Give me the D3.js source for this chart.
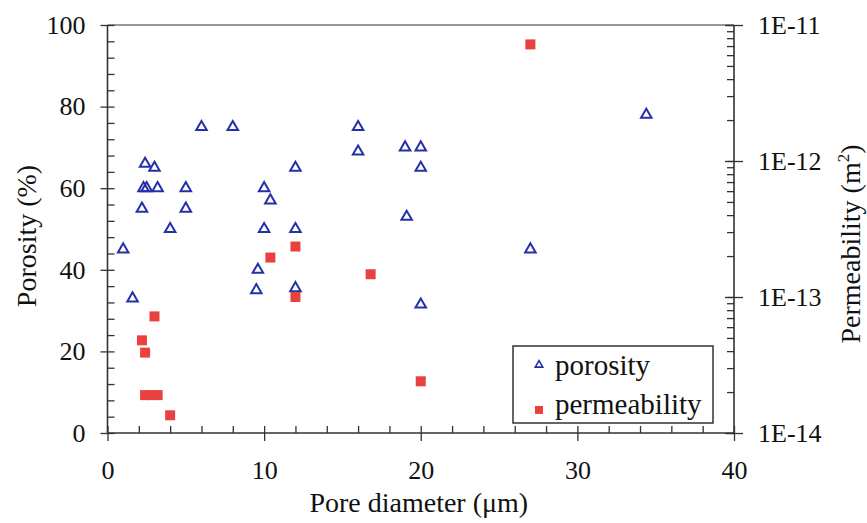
<!DOCTYPE html>
<html>
<head>
<meta charset="utf-8">
<script src="https://cdn.jsdelivr.net/npm/d3@7"></script>
<style>
  body { margin: 0; background: #fff; }
</style>
</head>
<body>
<svg id="drawing_region"></svg>
<script>
// pore diameter (um) vs porosity (%)
const porosityX = [1.0, 1.6, 2.4, 3.0, 2.3, 2.5, 3.2, 2.2, 4.0, 5.0, 5.0, 6.0, 8.0,
  10.0, 10.4, 10.0, 9.6, 9.5, 12.0, 12.0, 12.0, 16.0, 16.0, 19.0, 20.0, 20.0, 19.1, 20.0, 27.0, 34.4];
const porosityY = [45, 33, 66, 65, 60, 60, 60, 55, 50, 60, 55, 75, 75,
  60, 57, 50, 40, 35, 65, 50, 35.5, 75, 69, 70, 70, 65, 53, 31.5, 45, 78];

// pore diameter (um) vs permeability (m^2)
const permX = [3.0, 2.2, 2.4, 2.4, 2.8, 3.2, 4.0, 10.4, 12.0, 12.0, 16.8, 20.0, 27.0];
const permY = [7.2e-14, 4.8e-14, 3.9e-14, 1.9e-14, 1.9e-14, 1.9e-14, 1.35e-14,
  1.95e-13, 2.35e-13, 1.0e-13, 1.47e-13, 2.4e-14, 7.2e-12];

const xTicks = [0, 10, 20, 30, 40];
const yTicks = [0, 20, 40, 60, 80, 100];
const kTicks = [1e-14, 1e-13, 1e-12, 1e-11];
const kLabels = ["1E-14", "1E-13", "1E-12", "1E-11"];

const W = 867, H = 523;
const pLeft = 107.5, pRight = 734, pTop = 25, pBottom = 433;
const serif = '"Liberation Serif", "DejaVu Serif", serif';

const svg = d3.select('#drawing_region')
    .attr('width', W)
    .attr('height', H)
    .attr('font-family', serif);

const x = d3.scaleLinear().domain([0, 40]).range([pLeft, pRight]);
const y = d3.scaleLinear().domain([0, 100]).range([pBottom, pTop]);
const yk = d3.scaleLog().domain([1e-14, 1e-11]).range([pBottom, pTop]);

const axisColor = '#333';

function styleAxis(g) {
    g.attr('font-family', serif);
    g.select('.domain').remove();
    g.selectAll('.tick line').attr('stroke', axisColor).attr('stroke-width', 1.3);
    g.selectAll('.tick text')
        .style('font-family', serif)
        .style('font-size', '26px')
        .attr('fill', '#111');
}

// top frame line
svg.append('line')
    .attr('x1', pLeft).attr('x2', pRight)
    .attr('y1', pTop).attr('y2', pTop)
    .attr('stroke', '#999').attr('stroke-width', 2);

// x axis
const xMinor = d3.range(0, 41, 2);
svg.append('g')
    .attr('transform', `translate(0,${pBottom})`)
    .call(d3.axisTop(x).tickValues(xMinor).tickSize(7).tickFormat(''))
    .call(styleAxis);
svg.append('g')
    .attr('transform', `translate(0,${pBottom})`)
    .call(d3.axisBottom(x).tickValues(xTicks).tickSize(8).tickPadding(20))
    .call(styleAxis);

// left axis
const yMinor = d3.range(0, 101, 4);
svg.append('g')
    .attr('transform', `translate(${pLeft},0)`)
    .call(d3.axisRight(y).tickValues(yMinor).tickSize(7).tickFormat(''))
    .call(styleAxis);
svg.append('g')
    .attr('transform', `translate(${pLeft},0)`)
    .call(d3.axisLeft(y).tickValues(yTicks).tickSize(7).tickPadding(15))
    .call(styleAxis);

// right (log) axis
const kMinor = [];
kTicks.slice(0, -1).forEach(d => { for (let m = 1; m < 10; m++) kMinor.push(d * m); });
kMinor.push(1e-11);
svg.append('g')
    .attr('transform', `translate(${pRight},0)`)
    .call(d3.axisLeft(yk).tickValues(kMinor).tickSize(7).tickFormat(''))
    .call(styleAxis);
svg.append('g')
    .attr('transform', `translate(${pRight},0)`)
    .call(d3.axisLeft(yk).tickValues(kTicks).tickSize(9).tickFormat(''))
    .call(styleAxis);
svg.append('g')
    .attr('transform', `translate(${pRight},0)`)
    .call(d3.axisRight(yk).tickValues(kTicks).tickSize(9).tickPadding(15)
        .tickFormat((d, i) => kLabels[i]))
    .call(styleAxis);

// axis lines
svg.append('line').attr('x1', pLeft).attr('x2', pRight).attr('y1', pBottom).attr('y2', pBottom)
    .attr('stroke', axisColor).attr('stroke-width', 1.6);
svg.append('line').attr('x1', pLeft).attr('x2', pLeft).attr('y1', pTop).attr('y2', pBottom)
    .attr('stroke', axisColor).attr('stroke-width', 1.6);
svg.append('line').attr('x1', pRight).attr('x2', pRight).attr('y1', pTop).attr('y2', pBottom)
    .attr('stroke', axisColor).attr('stroke-width', 1.6);

// axis titles
svg.append('text')
    .attr('x', (pLeft + pRight) / 2 - 2).attr('y', 512)
    .attr('text-anchor', 'middle')
    .style('font-family', serif)
    .style('font-size', '28px')
    .attr('fill', '#111')
    .text('Pore diameter (\u03bcm)');

svg.append('text')
    .attr('transform', 'translate(36,236) rotate(-90)')
    .attr('text-anchor', 'middle')
    .style('font-family', serif)
    .style('font-size', '28px')
    .attr('fill', '#111')
    .text('Porosity (%)');

const kt = svg.append('text')
    .attr('transform', 'translate(860,244) rotate(-90)')
    .attr('text-anchor', 'middle')
    .style('font-family', serif)
    .style('font-size', '28px')
    .attr('fill', '#111');
kt.append('tspan').text('Permeability (m');
kt.append('tspan').attr('dy', -11).style('font-size', '17px').text('2');
kt.append('tspan').attr('dy', 11).text(')');

// markers
const tri = d3.symbol().type(d3.symbolTriangle).size(48);
const blue = '#2530a8', red = '#e8413f';

svg.append('g').selectAll('path')
    .data(porosityX.map((d, i) => [d, porosityY[i]]))
    .join('path')
    .attr('d', tri)
    .attr('transform', d => `translate(${x(d[0])},${y(d[1])})`)
    .attr('fill', 'none')
    .attr('stroke', blue)
    .attr('stroke-width', 2);

const sq = 10;
svg.append('g').selectAll('rect')
    .data(permX.map((d, i) => [d, permY[i]]))
    .join('rect')
    .attr('x', d => x(d[0]) - sq / 2)
    .attr('y', d => yk(d[1]) - sq / 2)
    .attr('width', sq)
    .attr('height', sq)
    .attr('fill', red);

// legend
const lg = svg.append('g');
lg.append('rect')
    .attr('x', 513).attr('y', 346).attr('width', 200).attr('height', 77)
    .attr('fill', '#fff').attr('stroke', axisColor).attr('stroke-width', 1.5);
lg.append('path')
    .attr('d', d3.symbol().type(d3.symbolTriangle).size(24))
    .attr('transform', 'translate(539,365)')
    .attr('fill', 'none').attr('stroke', blue).attr('stroke-width', 1.6);
lg.append('rect')
    .attr('x', 535).attr('y', 406).attr('width', 8).attr('height', 8)
    .attr('fill', red);
lg.selectAll('text.lbl')
    .data(['porosity', 'permeability'])
    .join('text')
    .attr('class', 'lbl')
    .attr('x', 555)
    .attr('y', (d, i) => 375 + i * 39)
    .style('font-family', serif)
    .style('font-size', '29px')
    .attr('fill', '#111')
    .text(d => d);
</script>
</body>
</html>
